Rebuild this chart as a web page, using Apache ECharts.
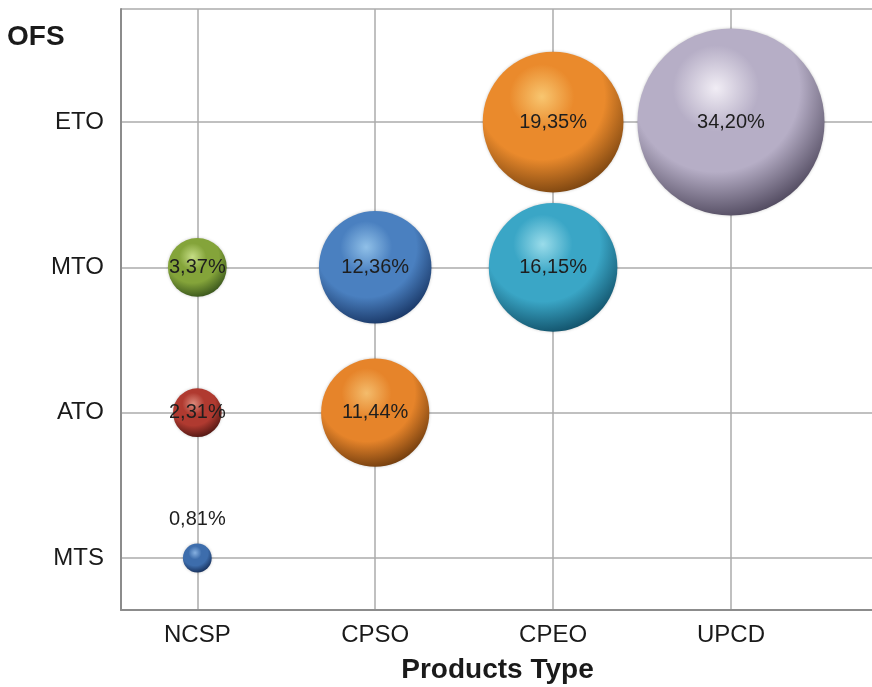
<!DOCTYPE html>
<html>
<head>
<meta charset="utf-8">
<script src="https://cdn.jsdelivr.net/npm/echarts@6/dist/echarts.min.js"></script>
<style>
  html, body { margin: 0; padding: 0; background: #fff; }
  #chart { width: 872px; height: 687px; }
</style>
</head>
<body>
<div id="chart"></div>
<script>
// Axis categories
const productTypes = ['NCSP', 'CPSO', 'CPEO', 'UPCD'];
const orderTypes = ['MTS', 'ATO', 'MTO', 'ETO'];

// One entry per bubble: product type, order type and share (%)
const bubbleProduct = ['UPCD', 'CPEO', 'CPEO', 'CPSO', 'CPSO', 'NCSP', 'NCSP', 'NCSP'];
const bubbleOrder   = ['ETO',  'ETO',  'MTO',  'MTO',  'ATO',  'MTO',  'ATO',  'MTS'];
const bubbleShare   = [34.20, 19.35, 16.15, 12.36, 11.44, 3.37, 2.31, 0.81];

// Sphere shading per bubble: [highlight, body, rim]
const sphereShades = [
  ['#f1edf5', '#b6aec6', '#4a4358'],
  ['#f8c670', '#ea8a2c', '#74400e'],
  ['#9adcea', '#3aa6c6', '#0f4c64'],
  ['#90c0e8', '#4a80c0', '#163260'],
  ['#f4bc6c', '#e6842a', '#6a380c'],
  ['#c6de86', '#84a43a', '#34501a'],
  ['#dc8a7c', '#b03a30', '#4a1410'],
  ['#86b0e0', '#3d6dac', '#142c56']
];

const FONT = '"Liberation Sans", Arial, Helvetica, sans-serif';

function sphere(shade) {
  return {
    type: 'radial', x: 0.42, y: 0.32, r: 0.72,
    colorStops: [
      { offset: 0, color: shade[0] },
      { offset: 0.32, color: shade[1] },
      { offset: 0.62, color: shade[1] },
      { offset: 1, color: shade[2] }
    ]
  };
}

const bubbles = bubbleShare.map((v, i) => {
  const item = {
    value: [productTypes.indexOf(bubbleProduct[i]) + 1, orderTypes.indexOf(bubbleOrder[i]) + 1, v],
    itemStyle: { color: sphere(sphereShades[i]) }
  };
  if (v < 1) {
    item.label = { position: 'top', distance: 14 };
  }
  return item;
});

const chart = echarts.init(document.getElementById('chart'), null, { renderer: 'canvas' });

chart.setOption({
  animation: false,
  textStyle: { fontFamily: FONT },
  graphic: [{
    type: 'text', left: 7, top: 23,
    style: { text: 'OFS', font: 'bold 28px ' + FONT, fill: '#1a1a1a' }
  }],
  grid: { left: 121, top: 9, right: -2, bottom: 77, outerBoundsMode: 'none', containLabel: false },
  xAxis: {
    type: 'value', min: 0.571, max: 4.804, minInterval: 1, maxInterval: 1,
    axisLine: { show: true, lineStyle: { color: '#8c8c8c', width: 2 } },
    axisTick: { show: false },
    splitLine: { show: true, lineStyle: { color: '#ababab', width: 1.5 } },
    axisLabel: {
      margin: 13, fontSize: 24, color: '#1a1a1a', fontFamily: FONT,
      formatter: v => (Math.abs(v - Math.round(v)) < 1e-6 && productTypes[Math.round(v) - 1]) || ''
    },
    name: 'Products Type', nameLocation: 'middle', nameGap: 46,
    nameTextStyle: { fontSize: 28, fontWeight: 'bold', color: '#1a1a1a', fontFamily: FONT }
  },
  yAxis: {
    type: 'value', min: 0.642, max: 4.778, minInterval: 1, maxInterval: 1,
    axisLine: { show: true, lineStyle: { color: '#8c8c8c', width: 2 } },
    axisTick: { show: false },
    splitLine: { show: true, lineStyle: { color: '#ababab', width: 1.5 } },
    axisLabel: {
      margin: 17, fontSize: 24, color: '#1a1a1a', fontFamily: FONT,
      formatter: v => (Math.abs(v - Math.round(v)) < 1e-6 && orderTypes[Math.round(v) - 1]) || ''
    }
  },
  series: [{
    type: 'scatter',
    data: bubbles,
    symbolSize: d => 32 * Math.sqrt(d[2]),
    itemStyle: { shadowColor: 'rgba(0,0,0,0.22)', shadowBlur: 3, opacity: 1 },
    label: {
      show: true, position: 'inside', fontSize: 20, color: '#1e1e1e', fontFamily: FONT,
      formatter: p => p.value[2].toFixed(2).replace('.', ',') + '%'
    },
    emphasis: { disabled: true }
  }]
});
</script>
</body>
</html>
